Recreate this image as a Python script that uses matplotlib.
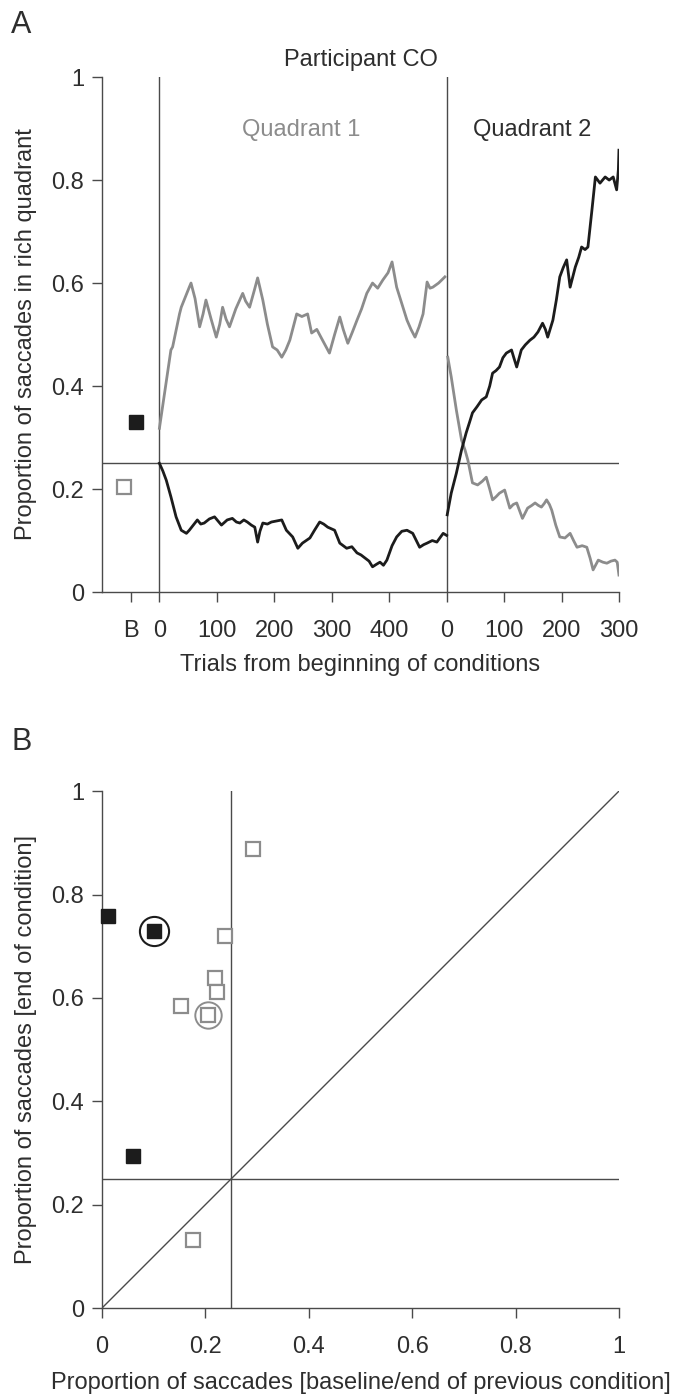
import matplotlib
matplotlib.use('Agg')
import matplotlib.pyplot as plt

plt.rcParams['font.family'] = ['Liberation Sans', 'DejaVu Sans']

GRAY = '#8c8c8c'
BLACK = '#1c1c1c'
AXC = '#4a4a4a'

# ---------- Panel A: running proportions ----------
# condition 1 (rich quadrant = quadrant 1), trials 0..500
c1_gray_t = [0, 20, 23, 35, 38, 52, 55, 62, 70, 76, 81, 90, 99, 105, 110, 116, 122, 133, 145,
             150, 157, 165, 171, 180, 188, 197, 205, 213, 220, 227, 239, 248, 258, 265, 274,
             284, 296, 305, 314, 320, 328, 336, 344, 352, 361, 371, 380, 389, 398, 405, 413,
             422, 431, 438, 445, 452, 459, 466, 471, 476, 486, 497]
c1_gray = [0.318, 0.47, 0.476, 0.54, 0.553, 0.592, 0.60, 0.57, 0.515, 0.54, 0.567, 0.53, 0.495,
           0.52, 0.553, 0.53, 0.515, 0.55, 0.58, 0.565, 0.553, 0.585, 0.61, 0.567, 0.52, 0.476,
           0.47, 0.456, 0.47, 0.489, 0.54, 0.535, 0.54, 0.503, 0.51, 0.489, 0.464, 0.50, 0.534,
           0.51, 0.483, 0.505, 0.528, 0.55, 0.58, 0.60, 0.59, 0.606, 0.62, 0.641, 0.592, 0.56,
           0.528, 0.51, 0.495, 0.515, 0.54, 0.602, 0.59, 0.592, 0.60, 0.612]
c1_black_t = [0, 6, 12, 20, 29, 38, 47, 52, 59, 66, 72, 78, 87, 96, 102, 108, 118, 127, 134,
              140, 147, 153, 160, 166, 171, 175, 180, 188, 195, 204, 213, 221, 232, 241, 249,
              262, 270, 279, 286, 293, 305, 314, 326, 335, 344, 351, 358, 365, 371, 378, 384,
              390, 396, 405, 413, 422, 431, 441, 453, 460, 466, 475, 483, 494, 500]
c1_black = [0.25, 0.235, 0.217, 0.185, 0.146, 0.12, 0.114, 0.12, 0.13, 0.14, 0.132, 0.134, 0.142,
            0.146, 0.138, 0.13, 0.14, 0.143, 0.136, 0.134, 0.14, 0.136, 0.13, 0.126, 0.097,
            0.118, 0.134, 0.132, 0.136, 0.138, 0.14, 0.12, 0.107, 0.085, 0.095, 0.105, 0.12,
            0.136, 0.132, 0.126, 0.12, 0.095, 0.085, 0.088, 0.076, 0.072, 0.066, 0.06, 0.049,
            0.054, 0.058, 0.052, 0.062, 0.09, 0.107, 0.118, 0.12, 0.114, 0.087, 0.092, 0.095,
            0.1, 0.097, 0.114, 0.11]

# condition 2 (rich quadrant = quadrant 2), trials 0..300
c2_black_t = [1, 8, 17, 26, 34, 40, 45, 53, 61, 69, 75, 80, 86, 92, 98, 104, 113, 117, 122, 130,
              137, 145, 152, 159, 167, 172, 176, 185, 191, 197, 203, 209, 215, 224, 230, 235,
              241, 246, 253, 259, 263, 267, 276, 283, 290, 296, 299, 300]
c2_black = [0.15, 0.192, 0.231, 0.276, 0.309, 0.33, 0.348, 0.36, 0.373, 0.379, 0.40, 0.425,
            0.43, 0.437, 0.455, 0.464, 0.47, 0.455, 0.437, 0.47, 0.48, 0.489, 0.495, 0.505,
            0.522, 0.51, 0.495, 0.528, 0.567, 0.612, 0.63, 0.645, 0.592, 0.631, 0.65, 0.67,
            0.665, 0.67, 0.742, 0.806, 0.80, 0.794, 0.806, 0.80, 0.806, 0.781, 0.82, 0.858]
c2_gray_t = [2, 8, 17, 26, 32, 37, 45, 54, 62, 69, 75, 80, 86, 92, 101, 110, 116, 122, 132, 141,
             148, 154, 160, 165, 170, 174, 179, 183, 190, 197, 206, 215, 221, 227, 236, 244,
             250, 255, 264, 272, 279, 286, 293, 297, 300]
c2_gray = [0.456, 0.418, 0.353, 0.295, 0.276, 0.256, 0.212, 0.208, 0.215, 0.223, 0.20, 0.179,
           0.185, 0.192, 0.198, 0.163, 0.17, 0.173, 0.143, 0.163, 0.168, 0.173, 0.168, 0.165,
           0.172, 0.179, 0.17, 0.159, 0.13, 0.107, 0.105, 0.114, 0.10, 0.087, 0.09, 0.087,
           0.065, 0.043, 0.062, 0.058, 0.056, 0.06, 0.062, 0.058, 0.033]
C2_OFFSET = 500

# baseline markers (B)
base_x = [-61, -41]
base_y = [0.204, 0.331]

a_xticks = [-50, 0, 100, 200, 300, 400, 500, 600, 700, 800]
a_xticklabels = ['B', '0', '100', '200', '300', '400', '0', '100', '200', '300']
a_yticks = [0, 0.2, 0.4, 0.6, 0.8, 1]
a_yticklabels = ['0', '0.2', '0.4', '0.6', '0.8', '1']

# ---------- Panel B: start vs end of condition ----------
open_x = [0.292, 0.238, 0.219, 0.223, 0.153, 0.205, 0.176]
open_y = [0.888, 0.72, 0.638, 0.611, 0.584, 0.567, 0.131]
filled_x = [0.012, 0.10, 0.06]
filled_y = [0.758, 0.729, 0.294]
circled_open = (0.205, 0.567)
circled_filled = (0.10, 0.729)

b_ticks = [0, 0.2, 0.4, 0.6, 0.8, 1]
b_ticklabels = ['0', '0.2', '0.4', '0.6', '0.8', '1']

FS = 17
TXT = '#2e2e2e'

fig = plt.figure(figsize=(6.78, 13.96), dpi=100)


def style_axes(ax):
    for s in ['top', 'right']:
        ax.spines[s].set_visible(False)
    for s in ['left', 'bottom']:
        ax.spines[s].set_color(AXC)
        ax.spines[s].set_linewidth(1.0)
    ax.tick_params(axis='both', colors=AXC, width=1.0, length=7, labelsize=FS,
                   labelcolor=TXT)
    ax.tick_params(axis='x', pad=13)
    ax.tick_params(axis='y', pad=6)


# ================= A =================
axA = fig.add_axes([0.1504, 0.5759, 0.7625, 0.3689])
style_axes(axA)
axA.set_xlim(-100, 800)
axA.set_ylim(0, 1)

axA.axhline(0.25, color=AXC, lw=1.0, zorder=1)
axA.axvline(0, color=AXC, lw=1.0, zorder=1)
axA.axvline(C2_OFFSET, color=AXC, lw=1.0, zorder=1)

axA.plot(c1_gray_t, c1_gray, color=GRAY, lw=2.0, zorder=3)
axA.plot(c1_black_t, c1_black, color=BLACK, lw=2.0, zorder=3)
axA.plot([t + C2_OFFSET for t in c2_gray_t], c2_gray, color=GRAY, lw=2.0, zorder=3)
axA.plot([t + C2_OFFSET for t in c2_black_t], c2_black, color=BLACK, lw=2.0, zorder=4)

axA.plot(base_x[0], base_y[0], 's', ms=10, mfc='white', mec=GRAY, mew=1.6, zorder=5)
axA.plot(base_x[1], base_y[1], 's', ms=10.5, mfc=BLACK, mec=BLACK, mew=1.0, zorder=5)

axA.set_xticks(a_xticks)
axA.set_xticklabels(a_xticklabels)
axA.set_yticks(a_yticks)
axA.set_yticklabels(a_yticklabels)

axA.set_title('Participant CO', fontsize=FS, color=TXT, pad=8)
axA.text(0.385, 0.897, 'Quadrant 1', transform=axA.transAxes, ha='center', va='center',
         fontsize=FS, color=GRAY)
axA.text(0.832, 0.897, 'Quadrant 2', transform=axA.transAxes, ha='center', va='center',
         fontsize=FS, color=TXT)

axA.set_xlabel('Trials from beginning of conditions', fontsize=FS, color=TXT)
axA.set_ylabel('Proportion of saccades in rich quadrant', fontsize=FS, color=TXT)
axA.xaxis.set_label_coords(0.5, -0.142)
axA.xaxis.label.set_va('center')
axA.yaxis.set_label_coords(-0.147, 0.5)
axA.yaxis.label.set_va('center')

# ================= B =================
axB = fig.add_axes([0.1504, 0.0630, 0.7625, 0.3703])
style_axes(axB)
axB.set_xlim(0, 1)
axB.set_ylim(0, 1)

axB.plot([0, 1], [0, 1], color=AXC, lw=1.0, zorder=1)
axB.axhline(0.25, color=AXC, lw=1.0, zorder=1)
axB.axvline(0.25, color=AXC, lw=1.0, zorder=1)

axB.plot(open_x, open_y, 's', ms=10, mfc='white', mec=GRAY, mew=1.6, ls='none', zorder=4)
axB.plot(filled_x, filled_y, 's', ms=10.5, mfc=BLACK, mec=BLACK, mew=1.0, ls='none', zorder=4,
         clip_on=False)
axB.plot(*circled_open, 'o', ms=19, mfc='none', mec=GRAY, mew=1.4, zorder=5)
axB.plot(*circled_filled, 'o', ms=21, mfc='none', mec=BLACK, mew=1.5, zorder=5)

axB.set_xticks(b_ticks)
axB.set_xticklabels(b_ticklabels)
axB.set_yticks(b_ticks)
axB.set_yticklabels(b_ticklabels)

axB.set_xlabel('Proportion of saccades [baseline/end of previous condition]', fontsize=FS,
               color=TXT)
axB.set_ylabel('Proportion of saccades [end of condition]', fontsize=FS, color=TXT)
axB.xaxis.set_label_coords(0.5, -0.145)
axB.xaxis.label.set_va('center')
axB.yaxis.set_label_coords(-0.147, 0.5)
axB.yaxis.label.set_va('center')

fig.text(0.031, 0.982, 'A', fontsize=22, ha='center', va='center', color=TXT)
fig.text(0.032, 0.4685, 'B', fontsize=22, ha='center', va='center', color=TXT)

fig.savefig('out.png', dpi=100)
